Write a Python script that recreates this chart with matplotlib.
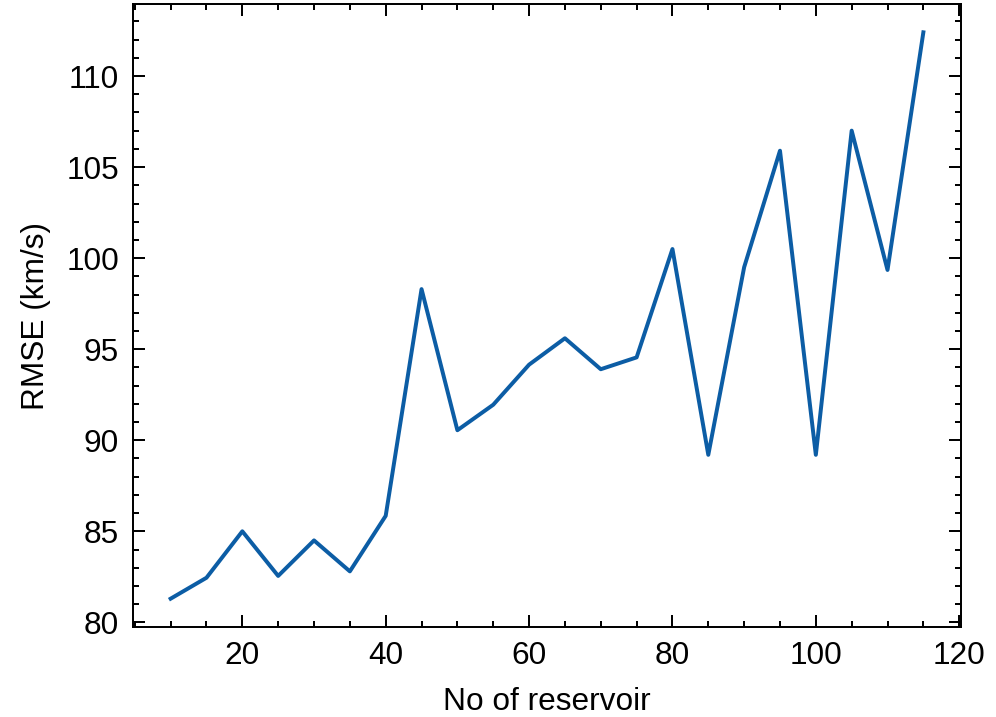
import matplotlib
matplotlib.use("Agg")
import matplotlib.pyplot as plt
from matplotlib.ticker import MultipleLocator

reservoirs = [10, 15, 20, 25, 30, 35, 40, 45, 50, 55, 60, 65, 70, 75, 80, 85, 90, 95, 100, 105, 110, 115]
rmse = [81.3, 82.45, 85.0, 82.55, 84.5, 82.8, 85.85, 98.3, 90.55, 91.95, 94.15, 95.6, 93.9, 94.55,
        100.5, 89.2, 99.5, 105.9, 89.2, 107.0, 99.35, 112.4]

plt.rcParams.update({
    "font.family": ["Liberation Sans", "DejaVu Sans"],
    "font.size": 8,
    "axes.linewidth": 0.5,
    "xtick.direction": "in", "ytick.direction": "in",
    "xtick.top": True, "ytick.right": True,
    "xtick.major.size": 3, "ytick.major.size": 3,
    "xtick.minor.size": 1.5, "ytick.minor.size": 1.5,
    "xtick.major.width": 0.5, "ytick.major.width": 0.5,
    "xtick.minor.width": 0.5, "ytick.minor.width": 0.5,
    "xtick.minor.visible": True, "ytick.minor.visible": True,
})

dpi = 996 / 3.5
fig = plt.figure(figsize=(3.5, 717 / dpi), dpi=dpi)
ax = fig.add_axes([133 / 996, 90 / 717, (961 - 133) / 996, (627 - 4) / 717])
ax.plot(reservoirs, rmse, color="#0C5DA5", lw=1.0)
ax.xaxis.set_major_locator(MultipleLocator(20))
ax.xaxis.set_minor_locator(MultipleLocator(5))
ax.yaxis.set_major_locator(MultipleLocator(5))
ax.yaxis.set_minor_locator(MultipleLocator(1))
ax.set_xlabel("No of reservoir")
ax.set_ylabel("RMSE (km/s)")
fig.savefig("out.png", dpi=dpi)
